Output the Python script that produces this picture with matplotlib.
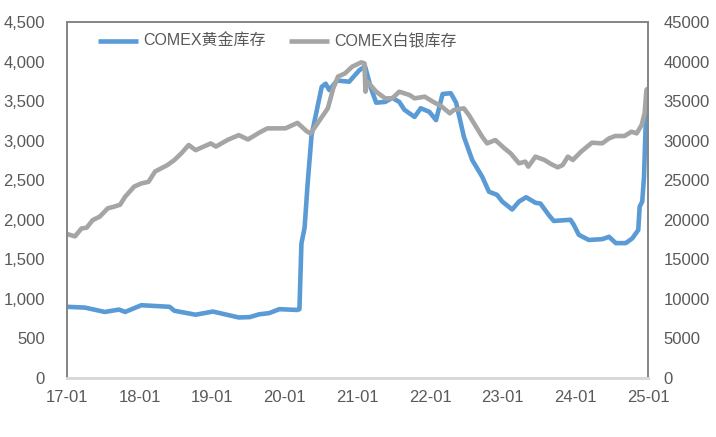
import matplotlib
matplotlib.use("Agg")
import matplotlib.pyplot as plt
import matplotlib.dates as mdates
import matplotlib.ticker as mticker
import pandas as pd

gold_dates = ["2017-01-01", "2017-04-01", "2017-07-10", "2017-09-20", "2017-10-20", "2018-01-10",
              "2018-06-01", "2018-06-25", "2018-10-10", "2019-01-05", "2019-05-15", "2019-07-10",
              "2019-08-25", "2019-10-15", "2019-12-05", "2020-03-05", "2020-03-15", "2020-03-25",
              "2020-04-10", "2020-04-25", "2020-05-15", "2020-07-05", "2020-07-25", "2020-08-12",
              "2020-09-20", "2020-11-20", "2021-01-10", "2021-02-08", "2021-03-10", "2021-04-05",
              "2021-05-20", "2021-06-25", "2021-07-30", "2021-08-25", "2021-10-15", "2021-11-15",
              "2021-12-28", "2022-01-31", "2022-03-05", "2022-04-15", "2022-05-12", "2022-06-20",
              "2022-08-01", "2022-09-20", "2022-10-24", "2022-12-04", "2022-12-30", "2023-02-18",
              "2023-03-24", "2023-04-29", "2023-06-15", "2023-07-10", "2023-08-21", "2023-09-15",
              "2023-12-08", "2023-12-25", "2024-01-19", "2024-03-09", "2024-05-16", "2024-06-19",
              "2024-07-23", "2024-09-11", "2024-10-14", "2024-11-13", "2024-11-20", "2024-12-03",
              "2024-12-12", "2024-12-21", "2025-01-01"]
gold_values = [900, 890, 835, 865, 835, 920,
               900, 850, 800, 840, 765, 770,
               805, 820, 870, 860, 870, 1700,
               1900, 2450, 3070, 3680, 3720, 3640,
               3760, 3745, 3890, 3940, 3660, 3480,
               3490, 3540, 3490, 3390, 3300, 3410,
               3365, 3260, 3590, 3600, 3480, 3050,
               2755, 2545, 2355, 2315, 2230, 2130,
               2230, 2285, 2215, 2205, 2060, 1985,
               2000, 1935, 1810, 1745, 1755, 1785,
               1705, 1705, 1765, 1870, 2165, 2230,
               2545, 3260, 3450]

silver_dates = ["2017-01-01", "2017-02-10", "2017-03-15", "2017-04-10", "2017-05-10", "2017-06-15",
                "2017-07-25", "2017-08-25", "2017-09-25", "2017-10-20", "2017-12-05", "2018-01-10",
                "2018-02-15", "2018-03-20", "2018-05-20", "2018-06-25", "2018-07-30", "2018-09-05",
                "2018-10-10", "2018-12-25", "2019-01-20", "2019-03-20", "2019-05-15", "2019-06-30",
                "2019-08-25", "2019-10-05", "2020-01-05", "2020-03-05", "2020-04-20", "2020-05-10",
                "2020-06-25", "2020-08-05", "2020-09-01", "2020-09-25", "2020-10-30", "2020-12-05",
                "2021-01-20", "2021-02-05", "2021-02-10", "2021-02-20", "2021-04-05", "2021-05-20",
                "2021-06-25", "2021-07-30", "2021-09-20", "2021-10-15", "2021-12-05", "2022-01-15",
                "2022-03-01", "2022-04-10", "2022-05-01", "2022-06-20", "2022-07-15", "2022-09-20",
                "2022-10-15", "2022-11-25", "2023-01-10", "2023-02-10", "2023-03-24", "2023-04-25",
                "2023-05-10", "2023-06-15", "2023-07-30", "2023-09-01", "2023-10-05", "2023-10-30",
                "2023-11-25", "2023-12-20", "2024-01-30", "2024-03-25", "2024-05-16", "2024-06-19",
                "2024-07-20", "2024-09-05", "2024-10-10", "2024-11-05", "2024-11-30", "2024-12-15",
                "2024-12-24", "2025-01-01"]
silver_values = [18200, 17900, 18900, 19000, 19950, 20400,
                 21450, 21650, 21900, 22900, 24200, 24600,
                 24800, 26100, 26900, 27550, 28400, 29450,
                 28800, 29650, 29250, 30100, 30700, 30150,
                 31000, 31550, 31560, 32250, 31200, 30900,
                 32600, 34100, 36600, 38100, 38500, 39350,
                 39900, 39770, 36190, 37450, 36190, 35350,
                 35350, 36190, 35770, 35350, 35560, 34930,
                 34300, 33460, 33880, 34090, 33250, 30500,
                 29660, 30080, 29030, 28400, 27140, 27350,
                 26720, 27980, 27560, 27050, 26630, 26920,
                 27980, 27560, 28600, 29740, 29660, 30290,
                 30590, 30590, 31130, 30920, 31980, 33460,
                 36400, 36650]

series_names = ["COMEX黄金库存", "COMEX白银库存"]
x_ticks = [f"{y}-01-01" for y in range(2017, 2026)]

TXT = "#595959"
FONT = ["Liberation Sans", "Noto Sans CJK SC"]
plt.rcParams["font.family"] = FONT

fig = plt.figure(figsize=(7.16, 4.37), dpi=100)
ax = fig.add_axes([67/716, 1-378/437, (648-67)/716, (378-22)/437])
ax2 = ax.twinx()

l1, = ax.plot(pd.to_datetime(gold_dates), gold_values, color="#5B9BD5", lw=3.3,
              solid_joinstyle="round", solid_capstyle="butt", label=series_names[0])
l2, = ax2.plot(pd.to_datetime(silver_dates), silver_values, color="#A5A5A5", lw=3.3,
               solid_joinstyle="round", solid_capstyle="butt", label=series_names[1])

ax.set_xlim(pd.Timestamp("2017-01-01"), pd.Timestamp("2025-01-01"))
ax.set_ylim(0, 4500)
ax2.set_ylim(0, 45000)
ax.set_yticks(range(0, 4501, 500))
ax2.set_yticks(range(0, 45001, 5000))
ax.yaxis.set_major_formatter(mticker.FuncFormatter(lambda v, p: f"{v:,.0f}"))
ax2.yaxis.set_major_formatter(mticker.FuncFormatter(lambda v, p: f"{v:.0f}"))
ax.set_xticks(pd.to_datetime(x_ticks))
ax.xaxis.set_major_formatter(mdates.DateFormatter("%y-%m"))

for a in (ax, ax2):
    for s in ("left", "top", "right"):
        a.spines[s].set_color("#868686")
        a.spines[s].set_linewidth(1.3)
    a.spines["bottom"].set_color("#D9D9D9")
    a.spines["bottom"].set_linewidth(2)
    a.tick_params(length=0, labelsize=12, labelcolor=TXT)

ax.tick_params(axis="y", pad=16)
ax2.tick_params(axis="y", pad=11)
ax.tick_params(axis="x", pad=9)

leg = ax2.legend(handles=[l1, l2], loc="center left",
                 bbox_to_anchor=((98-67)/581, (378-41.7)/356), ncol=2, frameon=False,
                 borderaxespad=0, borderpad=0, handlelength=2.5, handletextpad=0.35,
                 columnspacing=1.45, prop={"family": FONT, "size": 11.5})
for t in leg.get_texts():
    t.set_color(TXT)

fig.savefig("out.png", dpi=100)
